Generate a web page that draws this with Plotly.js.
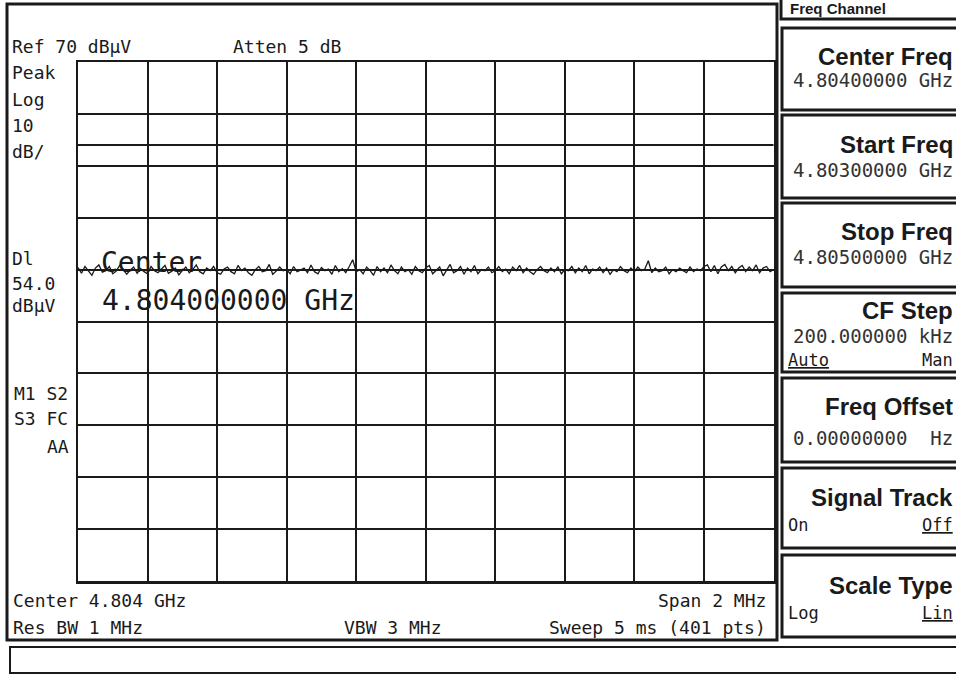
<!DOCTYPE html>
<html>
<head>
<meta charset="utf-8">
<script src="https://cdn.plot.ly/plotly-3.0.1.min.js"></script>
<style>html,body{margin:0;padding:0;background:#fff;}#plot{width:956px;height:675px;}</style>
</head>
<body>
<div id="plot"></div>
<script>
// ---- data ----
const startFreqGHz = 4.803;
const stopFreqGHz = 4.805;
const refLevel = 70;          // dBuV
const dbPerDiv = 10;
const displayLine = 54.0;     // dBuV
const traceStepGHz = 0.00001; // spacing of the read-off points
const traceDb = [
 30.4,29.3,30.6,29.8,28.9,30.3,30.9,29.5,29.8,30.6,29.2,29.7,30.8,30.0,29.1,29.9,30.5,29.3,30.2,29.6,
 29.2,30.6,29.8,29.4,30.1,30.8,29.3,29.7,30.3,29.0,29.8,30.5,29.4,30.0,30.9,29.6,29.2,30.3,29.8,30.6,
 29.4,29.1,30.1,30.5,29.6,29.2,30.8,29.8,30.3,29.4,28.9,30.0,30.6,29.6,29.8,31.0,29.1,29.7,30.5,29.8,
 30.0,29.2,30.6,29.6,29.9,30.3,29.4,30.9,29.6,29.2,30.4,29.8,30.1,29.1,30.8,29.6,30.2,29.4,30.6,31.9,
 29.6,30.0,29.2,30.5,29.8,28.9,30.6,29.6,30.3,29.4,30.9,29.8,29.2,30.5,29.6,30.0,29.1,30.6,29.8,29.4,
 30.3,30.8,29.2,29.8,30.5,28.8,30.0,31.0,29.4,29.8,30.6,29.1,30.3,29.6,30.8,29.2,30.0,29.8,30.5,29.4,
 29.8,30.6,29.6,30.1,29.2,30.5,29.8,30.8,29.4,30.3,29.6,29.1,30.0,30.6,29.8,29.4,30.3,29.6,30.5,29.2,
 30.0,29.8,30.6,29.4,30.3,29.6,30.8,29.2,30.1,29.8,30.5,29.4,30.3,29.1,30.0,29.6,30.6,29.8,29.4,30.3,
 29.6,30.5,29.8,30.1,31.7,29.4,30.3,29.6,29.8,30.5,29.2,30.0,29.6,30.3,29.8,29.4,30.5,29.6,30.1,29.8,
 30.6,30.9,29.6,30.8,29.2,30.5,31.0,29.8,30.6,29.4,30.3,30.8,29.6,30.5,29.8,30.9,29.4,30.3,30.6,29.6,30.0
];
const leftLabels = ["Peak","Log","10","dB/"];
const dlLabels = ["Dl","54.0","dBµV"];
const statusLabels = ["M1 S2","S3 FC","AA"];
const softkeyTitles = ["Center Freq","Start Freq","Stop Freq","CF Step","Freq Offset","Signal Track","Scale Type"];
const softkeyValues = ["4.80400000 GHz","4.80300000 GHz","4.80500000 GHz","200.000000 kHz","0.00000000\u00a0\u00a0Hz","",""];
const softkeyLeftOpts = ["","","","Auto","","On","Log"];
const softkeyRightOpts = ["","","","Man","","Off","Lin"];

const traceX = traceDb.map((_, i) => startFreqGHz + i * traceStepGHz);

// ---- layout helpers ----
const W = 956, H = 675;
const px = x => x / W;
const py = y => 1 - y / H;
const MONO = "DejaVu Sans Mono";
const SANS = "Liberation Sans";
const INK = "#1a1a1a";

const ann = [];
function txt(t, x, y, size, opt) {
  opt = opt || {};
  ann.push({
    text: t, x: px(x), y: py(y), xref: "paper", yref: "paper",
    xanchor: opt.anchor || "left", yanchor: "middle", showarrow: false,
    font: {family: opt.family || MONO, size: size, color: opt.color || INK}
  });
}
const shapes = [];
function rect(x0, y0, x1, y1, w) {
  shapes.push({type: "rect", xref: "paper", yref: "paper",
    x0: px(x0), x1: px(x1), y0: py(y1), y1: py(y0),
    line: {color: INK, width: w}, fillcolor: "rgba(0,0,0,0)", layer: "above"});
}

// frames
rect(7, 4, 777, 640, 3);
rect(10, 647, 975, 673, 2);
rect(781, -20, 975, 19, 3);
const boxes = [[28,110],[115,198],[203,287],[293,372],[378,462],[468,548],[555,637]];
boxes.forEach(b => rect(782, b[0], 975, b[1], 3));

// display line
shapes.push({type: "line", xref: "x domain", yref: "y", x0: 0, x1: 1,
  y0: displayLine, y1: displayLine, line: {color: INK, width: 2}});

// top labels
txt("Ref " + refLevel + " dBµV", 10, 47, 18);
txt("Atten 5 dB", 231, 47, 18);
const leftY = [72, 99, 126, 151];
leftLabels.forEach((t, i) => txt(t, 10, leftY[i], 18));
const dlY = [259, 283, 305];
dlLabels.forEach((t, i) => txt(t, 10, dlY[i], 18));
const stY = [393, 418, 446];
txt(statusLabels[0], 12, stY[0], 18);
txt(statusLabels[1], 12, stY[1], 18);
txt(statusLabels[2], 71, stY[2], 18, {anchor: "right"});

// big centre readout
txt("Center", 99, 262, 28);
txt("4.804000000 GHz", 100, 300, 28);

// bottom annotations
txt("Center 4.804 GHz", 11, 600, 18);
txt("Res BW 1 MHz", 11, 627, 18);
txt("VBW 3 MHz", 342, 627, 18);
txt("Span 2 MHz", 768, 600, 18, {anchor: "right"});
txt("Sweep 5 ms (401 pts)", 768, 627, 18, {anchor: "right"});

// softkeys
txt("<b>Freq Channel</b>", 788, 9, 15, {family: SANS});
const titleY = [57, 144, 231, 311, 406, 497, 585];
const valueY = [80, 170, 257, 336, 438, 0, 0];
const optY = [0, 0, 0, 360, 0, 525, 613];
softkeyTitles.forEach((t, i) => {
  txt("<b>" + t + "</b>", 955, titleY[i], 24, {family: SANS, anchor: "right"});
  if (softkeyValues[i]) txt(softkeyValues[i], 955, valueY[i], 19, {color: "#333", anchor: "right"});
  if (softkeyLeftOpts[i]) {
    const l = softkeyLeftOpts[i] === "Auto" ? "<u>Auto</u>" : softkeyLeftOpts[i];
    txt(l, 786, optY[i], 17);
  }
  if (softkeyRightOpts[i]) {
    const r = softkeyRightOpts[i] === "Man" ? softkeyRightOpts[i] : "<u>" + softkeyRightOpts[i] + "</u>";
    txt(r, 955, optY[i], 17, {anchor: "right"});
  }
});

const trace = {
  x: traceX, y: traceDb, type: "scatter", mode: "lines",
  line: {color: INK, width: 1.3}, hoverinfo: "skip"
};

const axisCommon = {
  showgrid: true, gridcolor: INK, gridwidth: 2, showticklabels: false, ticks: "",
  zeroline: false, showline: true, mirror: true, linecolor: INK, linewidth: 2.5, fixedrange: true
};

const layout = {
  width: W, height: H, margin: {l: 0, r: 0, t: 0, b: 0},
  paper_bgcolor: "#fff", plot_bgcolor: "#fff", showlegend: false,
  xaxis: Object.assign({domain: [px(78), px(773.5)], range: [startFreqGHz, stopFreqGHz],
    tick0: startFreqGHz, dtick: (stopFreqGHz - startFreqGHz) / 10}, axisCommon),
  yaxis: Object.assign({domain: [py(581), py(62)], range: [refLevel - 10 * dbPerDiv, refLevel],
    tick0: refLevel, dtick: dbPerDiv}, axisCommon),
  shapes: shapes, annotations: ann
};

Plotly.newPlot("plot", [trace], layout, {staticPlot: true, displayModeBar: false});
</script>
</body>
</html>
